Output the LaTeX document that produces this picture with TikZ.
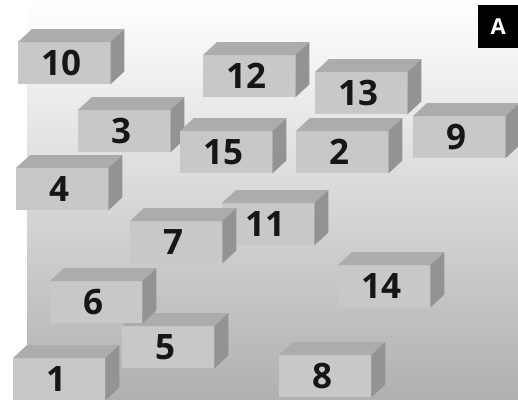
\documentclass[tikz,border=0pt]{standalone}
\usepackage{fontspec}
\setsansfont{Open Sans}
\usetikzlibrary{positioning}
\definecolor{frontc}{HTML}{C8C8C8}
\definecolor{topc}{HTML}{ACACAC}
\definecolor{sidec}{HTML}{939393}
\definecolor{bgbot}{HTML}{B0B0B0}
\definecolor{numc}{HTML}{161616}
\tikzset{
  blk/.style={rectangle,fill=frontc,minimum width=92pt,minimum height=42pt,inner sep=0pt,
    anchor=north west,text=numc,font=\sffamily\bfseries\fontsize{35}{35}\selectfont,
    execute at end node={\kern6pt}},
  topf/.style={fill=topc},
  sidef/.style={fill=sidec},
  tagbox/.style={rectangle,fill=black,text=white,minimum width=40pt,minimum height=43pt,
    inner sep=0pt,anchor=north west,font=\sffamily\bfseries\fontsize{22}{22}\selectfont}
}
% top and right faces of a block, from its front node
\newcommand{\blkfaces}[1]{%
  \fill[topf] (#1.north west) -- ++(14pt,13pt) -- ([shift={(14pt,13pt)}]#1.north east) -- (#1.north east) -- cycle;
  \fill[sidef] (#1.north east) -- ++(14pt,13pt) -- ([shift={(14pt,13pt)}]#1.south east) -- (#1.south east) -- cycle;
}

\begin{document}
\begin{tikzpicture}[x=1pt,y=-1pt]
\useasboundingbox (0,0) rectangle (518,399);
\shade[top color=white,bottom color=bgbot] (27,0) rectangle (518,399);
\node[tagbox] (lblA) at (478,5) {A};
\node[blk] (b10) at (18,42) {10}; \blkfaces{b10}
\node[blk] (b12) at (203,55) {12}; \blkfaces{b12}
\node[blk] (b13) at (315,72) {13}; \blkfaces{b13}
\node[blk] (b3) at (78,110) {3}; \blkfaces{b3}
\node[blk] (b9) at (413,116) {9}; \blkfaces{b9}
\node[blk] (b2) at (296,131) {2}; \blkfaces{b2}
\node[blk] (b15) at (180,131) {15}; \blkfaces{b15}
\node[blk] (b4) at (16,168) {4}; \blkfaces{b4}
\node[blk] (b11) at (222,203) {11}; \blkfaces{b11}
\node[blk] (b7) at (130,221) {7}; \blkfaces{b7}
\node[blk] (b14) at (338,265) {14}; \blkfaces{b14}
\node[blk] (b5) at (122,326) {5}; \blkfaces{b5}
\node[blk] (b6) at (50,281) {6}; \blkfaces{b6}
\node[blk] (b8) at (279,355) {8}; \blkfaces{b8}
\node[blk] (b1) at (13,358) {1}; \blkfaces{b1}
\end{tikzpicture}
\end{document}
